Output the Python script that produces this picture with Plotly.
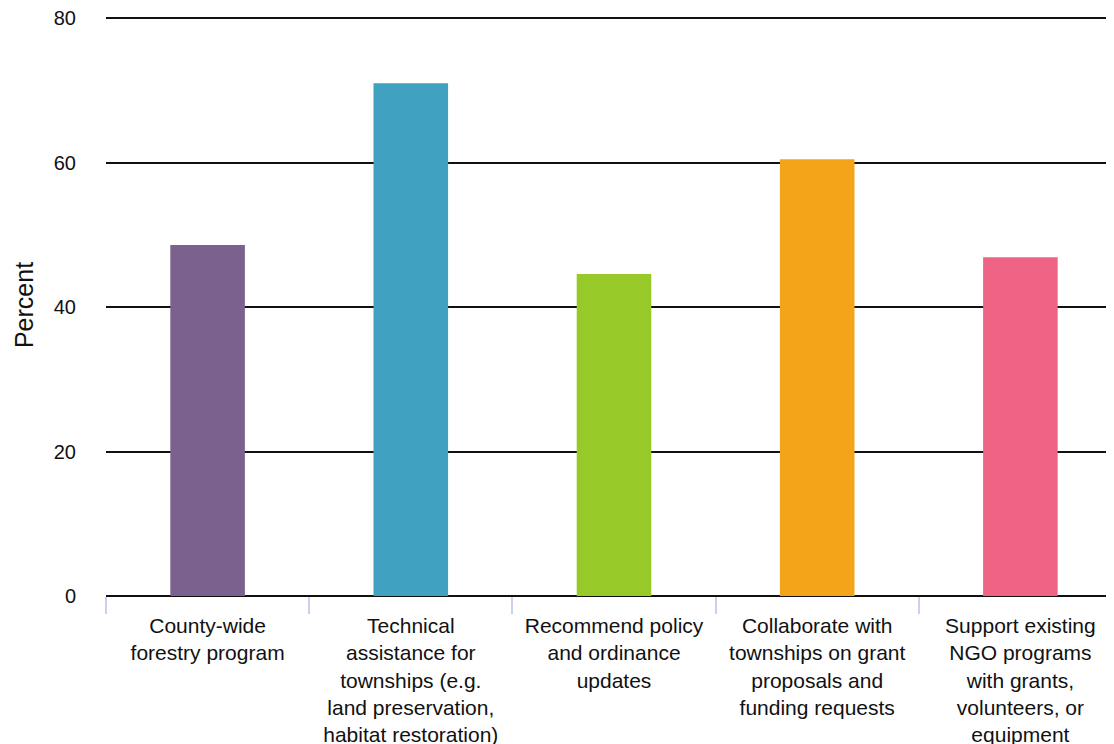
import plotly.graph_objects as go

categories = [
    "County-wide<br>forestry program",
    "Technical<br>assistance for<br>townships (e.g.<br>land preservation,<br>habitat restoration)",
    "Recommend policy<br>and ordinance<br>updates",
    "Collaborate with<br>townships on grant<br>proposals and<br>funding requests",
    "Support existing<br>NGO programs<br>with grants,<br>volunteers, or<br>equipment",
]
values = [48.6, 71.0, 44.6, 60.5, 46.9]
colors = ["#7B618E", "#40A1C1", "#97C928", "#F4A418", "#EF6384"]
y_ticks = [0, 20, 40, 60, 80]

fig = go.Figure(go.Bar(x=categories, y=values, marker=dict(color=colors, line=dict(width=0)),
                       hoverinfo="x+y"))

font_family = "Liberation Sans, Arial, sans-serif"
y_top = 80.6
fig.update_layout(
    width=1114, height=744,
    margin=dict(l=98, r=0, t=6, b=156),
    paper_bgcolor="white", plot_bgcolor="white",
    bargap=0.633,
    showlegend=False,
    font=dict(family=font_family, color="#111111"),
)
fig.update_yaxes(
    range=[0, y_top], tickvals=y_ticks, ticktext=[str(v) for v in y_ticks],
    showgrid=True, gridcolor="#111111", gridwidth=1.6,
    zeroline=True, zerolinecolor="#111111", zerolinewidth=2,
    showline=False, ticks="", ticklabelstandoff=29, ticklabeloverflow="allow",
    tickfont=dict(size=20), automargin=False,
    title=dict(text="Percent", font=dict(size=25), standoff=13),
)
fig.update_xaxes(
    showgrid=False, showline=False, zeroline=False,
    ticks="outside", tickson="boundaries", ticklen=17, tickwidth=2, tickcolor="#CDD0EC",
    tickfont=dict(size=21), tickangle=0, ticklabelstandoff=15, automargin=False,
)
fig.write_html("out.html")
